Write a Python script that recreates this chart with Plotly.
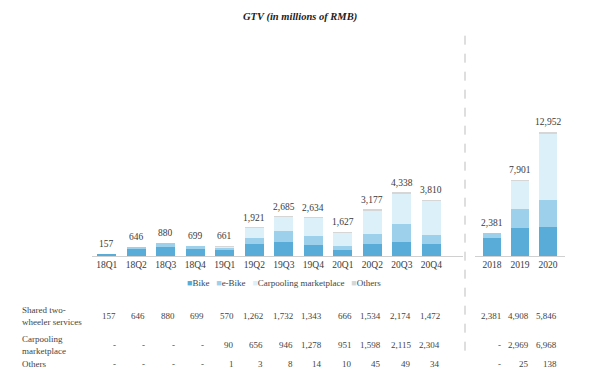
import plotly.graph_objects as go

# ---------------- data ----------------
quarters = ["18Q1", "18Q2", "18Q3", "18Q4", "19Q1", "19Q2", "19Q3", "19Q4",
            "20Q1", "20Q2", "20Q3", "20Q4"]
q_bike = [157, 526, 650, 499, 410, 800, 970, 770, 380, 850, 980, 800]
q_ebike = [0, 120, 230, 200, 160, 462, 762, 573, 286, 684, 1194, 672]
q_shared = [157, 646, 880, 699, 570, 1262, 1732, 1343, 666, 1534, 2174, 1472]
q_carpool = [None, None, None, None, 90, 656, 946, 1278, 951, 1598, 2115, 2304]
q_others = [None, None, None, None, 1, 3, 8, 14, 10, 45, 49, 34]
q_total = [157, 646, 880, 699, 661, 1921, 2685, 2634, 1627, 3177, 4338, 3810]

years = ["2018", "2019", "2020"]
y_bike = [1832, 2950, 3010]
y_ebike = [549, 1958, 2836]
y_shared = [2381, 4908, 5846]
y_carpool = [None, 2969, 6968]
y_others = [None, 25, 138]
y_total = [2381, 7901, 12952]

series_names = ["Bike", "e-Bike", "Carpooling marketplace", "Others"]
row_labels = ["Shared two-<br>wheeler services", "Carpooling<br>marketplace", "Others"]

# ---------------- style ----------------
COLORS = ["#5aacd8", "#9dd0ea", "#dcf0fa", "#d6d6d6"]
FONT = "Liberation Serif"
TXT = "#3a3a3a"
W, H = 600, 379
OFF = 8  # page body margin offset

def px(xpage):
    return (xpage - OFF) / W

def z(v):
    return [0 if x is None else x for x in v]

fig = go.Figure()
q_series = [q_bike, q_ebike, z(q_carpool), z(q_others)]
y_series = [y_bike, y_ebike, z(y_carpool), z(y_others)]
for name, col, qv, yv in zip(series_names, COLORS, q_series, y_series):
    fig.add_trace(go.Bar(x=quarters, y=qv, name=name, marker_color=col,
                         marker_line_width=0, width=0.64, showlegend=False,
                         xaxis="x", yaxis="y"))
    fig.add_trace(go.Bar(x=years, y=yv, name=name, marker_color=col,
                         marker_line_width=0, width=0.62, showlegend=False,
                         xaxis="x2", yaxis="y2"))

ann = []
for i, t in enumerate(q_total):
    ann.append(dict(x=i, y=t, xref="x", yref="y", text=f"{t:,}", showarrow=False,
                    yanchor="bottom", yshift=3, font=dict(family=FONT, size=9.5, color=TXT)))
for i, t in enumerate(y_total):
    ann.append(dict(x=i, y=t, xref="x2", yref="y2", text=f"{t:,}", showarrow=False,
                    yanchor="bottom", yshift=3, font=dict(family=FONT, size=9.5, color=TXT)))

row_y = [-0.278, -0.41, -0.50]
def fmt(v):
    return "-" if v is None else f"{v:,}"

for ry, lab in zip(row_y, row_labels):
    ann.append(dict(x=px(20), y=ry, xref="paper", yref="paper", text=lab, showarrow=False,
                    xanchor="left", yanchor="middle", align="left",
                    font=dict(family=FONT, size=9, color="#444")))

for vals, axis in [((q_shared, q_carpool, q_others), "x"),
                   ((y_shared, y_carpool, y_others), "x2")]:
    for ry, row in zip(row_y, vals):
        for i, v in enumerate(row):
            ann.append(dict(x=i, y=ry, xref=axis, yref="paper", text=fmt(v), showarrow=False,
                            xanchor="right", yanchor="middle", xshift=11,
                            font=dict(family=FONT, size=9, color="#444")))

# legend drawn as a single rich-text line
legend_txt = "&nbsp;&nbsp;&nbsp;".join(
    f'<span style="color:{c}">■</span>{n}' for n, c in zip(series_names, COLORS))
ann.append(dict(x=px(284), y=-0.125, xref="paper", yref="paper", text=legend_txt,
                showarrow=False, xanchor="center", yanchor="middle",
                font=dict(family=FONT, size=9, color="#444")))

ann.append(dict(x=px(300), y=1.0, xref="paper", yref="paper", yshift=23,
                text="<b><i>GTV (in millions of RMB)</i></b>", showarrow=False,
                yanchor="middle", font=dict(family=FONT, size=10.5, color="#222")))

top_page, base_page = 40, 256
fig.update_layout(
    width=W, height=H,
    margin=dict(l=0, r=0, t=top_page - OFF, b=H - (base_page - OFF)),
    paper_bgcolor="white", plot_bgcolor="white",
    barmode="stack",
    showlegend=False,
    xaxis=dict(domain=[px(92), px(463)], range=[-0.5, 12.07], type="category",
               showline=True, linecolor="#d0d0d0", linewidth=1, ticks="",
               showgrid=False, tickfont=dict(family=FONT, size=9.5, color=TXT)),
    xaxis2=dict(domain=[px(475), px(565)], range=[-0.607, 2.607], type="category",
                showline=True, linecolor="#d0d0d0", linewidth=1, ticks="",
                showgrid=False, tickfont=dict(family=FONT, size=9.5, color=TXT),
                anchor="y2"),
    yaxis=dict(range=[0, 14795], visible=False, domain=[0, 1]),
    yaxis2=dict(range=[0, 22547], visible=False, domain=[0, 1], anchor="x2"),
    annotations=ann,
    shapes=[dict(type="line", xref="paper", yref="paper", x0=px(465), x1=px(465),
                 y0=1.02, y1=-0.47, line=dict(color="#bdbdbd", width=1, dash="dash"))],
)

fig.write_html("out.html")
